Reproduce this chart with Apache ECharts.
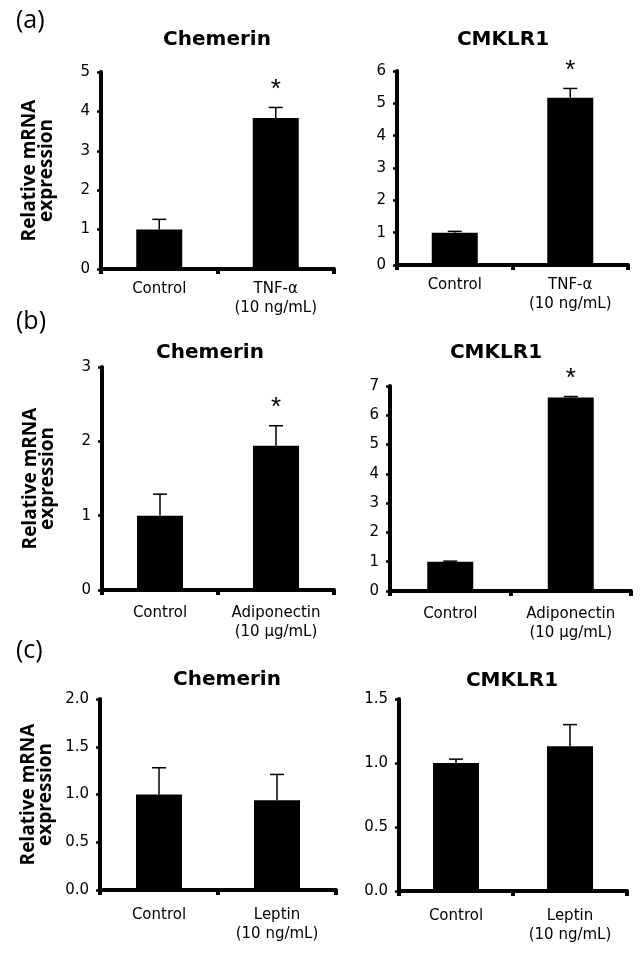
<!DOCTYPE html>
<html>
<head>
<meta charset="utf-8">
<script src="https://cdn.jsdelivr.net/npm/echarts@6/dist/echarts.min.js"></script>
<style>
html,body{margin:0;padding:0;background:#fff;}
#chart{width:641px;height:956px;}
</style>
</head>
<body>
<div id="chart"></div>
<script>
// ---- data ----
const catsA = ['Control', 'TNF-α\n(10 ng/mL)'];
const catsB = ['Control', 'Adiponectin\n(10 μg/mL)'];
const catsC = ['Control', 'Leptin\n(10 ng/mL)'];

const aChemerin = [1.0, 3.83];
const aChemerinErr = [0.26, 0.27];
const aCmklr1 = [1.0, 5.17];
const aCmklr1Err = [0.04, 0.29];

const bChemerin = [1.0, 1.94];
const bChemerinErr = [0.29, 0.27];
const bCmklr1 = [1.0, 6.61];
const bCmklr1Err = [0.02, 0.03];

const cChemerin = [1.0, 0.94];
const cChemerinErr = [0.28, 0.27];
const cCmklr1 = [1.0, 1.13];
const cCmklr1Err = [0.03, 0.17];

const starsSig = [false, true];
const starsNone = [false, false];

const yMaxes = [5, 6, 3, 7, 2.0, 1.5];
const yIntervals = [1, 1, 1, 1, 0.5, 0.5];

// ---- layout ----
const panels = [
  {title:'Chemerin', cats:catsA, vals:aChemerin, err:aChemerinErr, stars:starsSig, grid:{left:101, right:307, top:72, bottom:687}, titleX:217, titleY:40, yName:true, labelMargin:11, dec:0},
  {title:'CMKLR1', cats:catsA, vals:aCmklr1, err:aCmklr1Err, stars:starsSig, grid:{left:397, right:13, top:71, bottom:691}, titleX:503, titleY:40, yName:false, labelMargin:11, dec:0},
  {title:'Chemerin', cats:catsB, vals:bChemerin, err:bChemerinErr, stars:starsSig, grid:{left:102, right:307, top:367, bottom:366}, titleX:210, titleY:353, yName:true, labelMargin:14, dec:0},
  {title:'CMKLR1', cats:catsB, vals:bCmklr1, err:bCmklr1Err, stars:starsSig, grid:{left:390, right:10, top:386, bottom:365}, titleX:496, titleY:353, yName:false, labelMargin:14, dec:0},
  {title:'Chemerin', cats:catsC, vals:cChemerin, err:cChemerinErr, stars:starsNone, grid:{left:100, right:305, top:699, bottom:66}, titleX:227, titleY:680, yName:true, labelMargin:16, dec:1},
  {title:'CMKLR1', cats:catsC, vals:cCmklr1, err:cCmklr1Err, stars:starsNone, grid:{left:399, right:14, top:699, bottom:65}, titleX:512, titleY:681, yName:false, labelMargin:16, dec:1}
];

const chart = echarts.init(document.getElementById('chart'), null, {renderer:'canvas'});

const grids = [], xAxes = [], yAxes = [], series = [], graphics = [];

panels.forEach((p, i) => {
  grids.push(Object.assign({containLabel:false}, p.grid));
  xAxes.push({
    type:'category', gridIndex:i, data:p.cats,
    axisLine:{show:true, lineStyle:{color:'#000', width:4}},
    axisTick:{show:true, alignWithLabel:false, length:5, lineStyle:{color:'#000', width:4}},
    axisLabel:{interval:0, color:'#000', fontFamily:'DejaVu Sans', fontSize:15, lineHeight:19, margin:p.labelMargin},
    splitLine:{show:false}
  });
  yAxes.push({
    type:'value', gridIndex:i, min:0, max:yMaxes[i], interval:yIntervals[i],
    splitLine:{show:false},
    axisLine:{show:true, lineStyle:{color:'#000', width:4}},
    axisTick:{show:true, length:4, lineStyle:{color:'#000', width:2.5}},
    axisLabel:{color:'#000', fontFamily:'DejaVu Sans', fontSize:15, margin:11,
      formatter:(v)=>v.toFixed(p.dec)},
    name: p.yName ? 'Relative mRNA\nexpression' : '',
    nameLocation:'middle', nameRotate:90, nameGap:46,
    nameTextStyle:{fontFamily:'Open Sans', fontWeight:'bold', fontSize:19, lineHeight:17, color:'#000'}
  });
  series.push({
    type:'bar', xAxisIndex:i, yAxisIndex:i, data:p.vals, barWidth:46,
    itemStyle:{color:'#000'}, silent:true, animation:false
  });
  series.push({
    type:'custom', xAxisIndex:i, yAxisIndex:i, z:5, animation:false, silent:true,
    data:p.vals.map((v,k)=>[k, v, p.err[k], p.stars[k] ? 1 : 0]),
    encode:{x:0, y:1},
    renderItem:function(params, api){
      const x = api.value(0), y = api.value(1), e = api.value(2), s = api.value(3);
      const base = api.coord([x, y]);
      const top = api.coord([x, y + e]);
      const children = [
        {type:'line', shape:{x1:base[0], y1:base[1], x2:top[0], y2:top[1]}, style:{stroke:'#000', lineWidth:1.5}},
        {type:'line', shape:{x1:top[0]-7, y1:top[1], x2:top[0]+7, y2:top[1]}, style:{stroke:'#000', lineWidth:1.5}}
      ];
      if (s) {
        children.push({type:'text', style:{text:'*', x:top[0], y:top[1]-5, align:'center', verticalAlign:'bottom',
          fontFamily:'Liberation Sans', fontSize:26, fill:'#000'}});
      }
      return {type:'group', children:children};
    }
  });
  graphics.push({type:'text', x:p.titleX, y:p.titleY, style:{text:p.title, fontFamily:'DejaVu Sans', fontWeight:'bold', fontSize:20, fill:'#000', align:'center', verticalAlign:'middle'}});
});

const panelLabels = [['(a)', 21], ['(b)', 322], ['(c)', 651]];
panelLabels.forEach(l => {
  graphics.push({type:'text', x:16, y:l[1], style:{text:l[0], fontFamily:'Open Sans', fontSize:25, fill:'#000', align:'left', verticalAlign:'middle'}});
});

chart.setOption({
  animation:false,
  backgroundColor:'#fff',
  grid:grids, xAxis:xAxes, yAxis:yAxes, series:series,
  graphic:graphics
});
</script>
</body>
</html>
